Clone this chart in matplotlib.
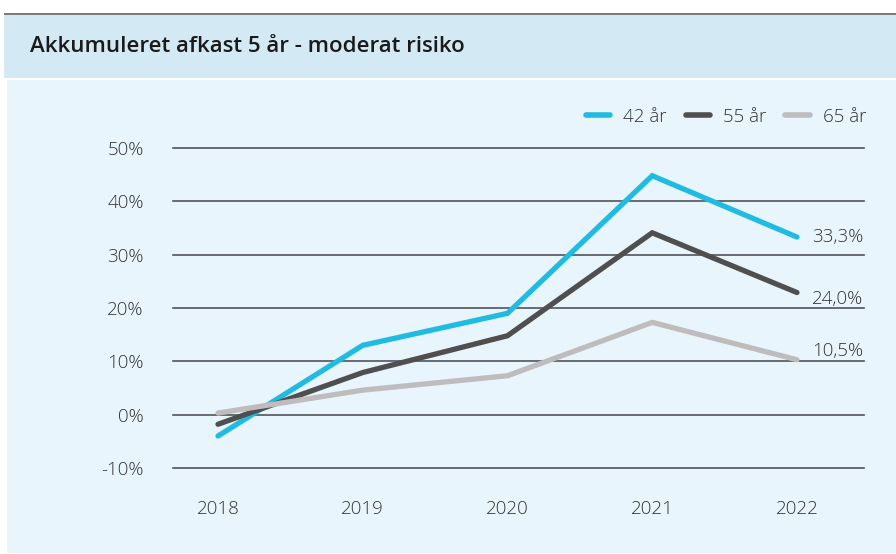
import matplotlib
matplotlib.use("Agg")
import matplotlib.pyplot as plt
from matplotlib.patches import Rectangle
from matplotlib.lines import Line2D

years = ["2018", "2019", "2020", "2021", "2022"]
series_names = ["42 år", "55 år", "65 år"]
values_42 = [-4.0, 13.0, 19.0, 44.8, 33.3]
values_55 = [-1.8, 7.9, 14.8, 34.1, 22.9]
values_65 = [0.3, 4.6, 7.3, 17.3, 10.3]
end_labels = ["33,3%", "24,0%", "10,5%"]
y_ticks = [-10, 0, 10, 20, 30, 40, 50]
y_tick_labels = ["-10%", "0%", "10%", "20%", "30%", "40%", "50%"]
title = "Akkumuleret afkast 5 år - moderat risiko"

colors = ["#1fbbe0", "#4f4f4f", "#bebcbc"]
text_color = "#333333"
FONT = "Open Sans"
FS = 13.5
WEIGHT = "light"

W, H = 896, 554
fig = plt.figure(figsize=(W / 100, H / 100), dpi=100)
fig.patch.set_facecolor("white")

def px_rect(x0, y0, x1, y1, color):
    fig.patches.append(Rectangle((x0 / W, 1 - y1 / H), (x1 - x0) / W, (y1 - y0) / H,
                                 transform=fig.transFigure, facecolor=color,
                                 edgecolor="none", zorder=-10))

px_rect(4, 13, W, 15.5, "#7a7c7e")
px_rect(4, 15.5, W, 78, "#d3eaf5")
px_rect(7, 80, W, 553, "#e9f5fc")

fig.text(30 / W, 1 - 46 / H, title, fontsize=16, fontweight="semibold",
         family=FONT, color="#1a1a1a", va="center", ha="left")

left, right, top, bottom = 173, 864, 148, 468
ax = fig.add_axes([left / W, 1 - bottom / H, (right - left) / W, (bottom - top) / H])
ax.set_zorder(5)
ax.set_facecolor("none")
x = list(range(len(years)))
ax.set_xlim(-0.311, 4.463)
ax.set_ylim(-10, 50)

for yv in y_ticks:
    ax.axhline(yv, color="#50555a", lw=1.2, zorder=1, clip_on=False)

all_vals = [values_42, values_55, values_65]
for vals, c in zip(all_vals, colors):
    ax.plot(x, vals, color=c, lw=3.8, solid_capstyle="round",
            solid_joinstyle="miter", zorder=3, clip_on=False)

offsets = [(15, 0), (15, -6), (15, 9)]
for vals, lab, off in zip(all_vals, end_labels, offsets):
    ax.annotate(lab, xy=(x[-1], vals[-1]), xytext=off, textcoords="offset pixels",
                fontsize=FS, family=FONT, fontweight=WEIGHT, color=text_color,
                va="center", ha="left")

ax.set_yticks(y_ticks)
ax.set_yticklabels(y_tick_labels, fontsize=FS, family=FONT, fontweight=WEIGHT,
                   color=text_color)
ax.set_xticks(x)
ax.set_xticklabels(years, fontsize=FS, family=FONT, fontweight=WEIGHT,
                   color=text_color)
ax.tick_params(axis="y", length=0, pad=21)
ax.tick_params(axis="x", length=0, pad=23)
for s in ax.spines.values():
    s.set_visible(False)

handles = [Line2D([0], [0], color=c, lw=4, solid_capstyle="round") for c in colors]
leg = fig.legend(handles, series_names, loc="center right",
                 bbox_to_anchor=(866 / W, 1 - 117 / H), ncol=3, frameon=False,
                 prop={"family": FONT, "size": FS, "weight": WEIGHT},
                 handlelength=1.3, handletextpad=0.7, columnspacing=1.0,
                 borderaxespad=0, borderpad=0)
for t in leg.get_texts():
    t.set_color(text_color)

fig.savefig("out.png", dpi=100)
